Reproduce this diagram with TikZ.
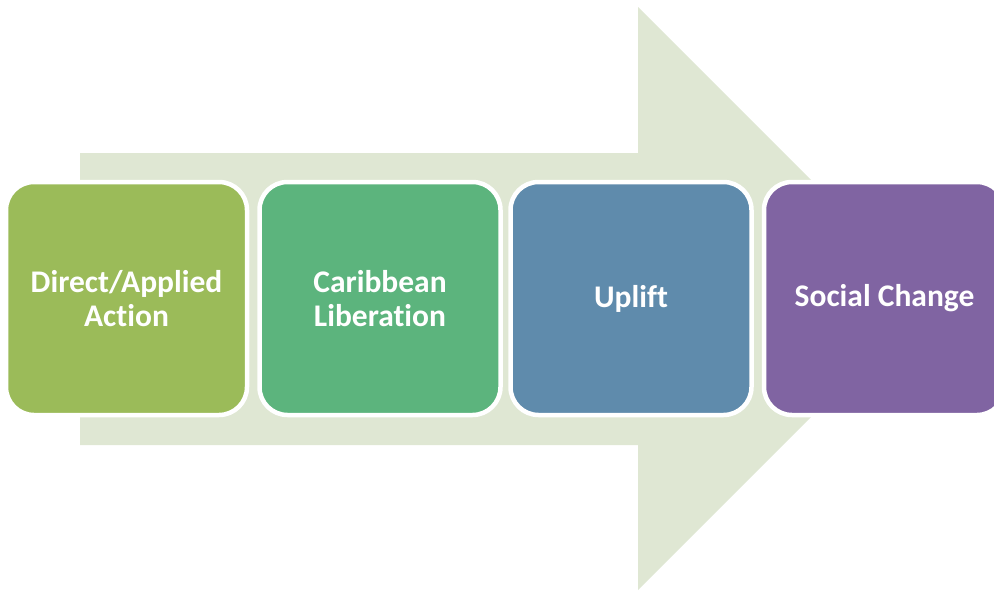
\documentclass[tikz,border=0pt]{standalone}
\usepackage{fontspec}
\setmainfont{Carlito}[Ligatures=NoCommon]
\definecolor{arrowfill}{HTML}{DFE7D3}
\definecolor{boxA}{HTML}{9BBB59}
\definecolor{boxB}{HTML}{5CB47D}
\definecolor{boxC}{HTML}{5F8BAC}
\definecolor{boxD}{HTML}{8064A2}
\tikzset{
  stagebox/.style={rectangle, rounded corners=28pt, draw=white, line width=4.5pt,
    minimum width=241pt, minimum height=233pt, inner sep=0pt,
    text=white, font=\bfseries\fontsize{31.5}{34}\selectfont, align=center},
}
\begin{document}
\begin{tikzpicture}[x=1pt,y=-1pt]
\useasboundingbox (0,0) rectangle (994,592);
\clip (0,0) rectangle (994,592);
% big background arrow
\fill[arrowfill] (80,153) -- (638,153) -- (638,7) -- (929.5,298.5) -- (638,590) -- (638,445) -- (80,445) -- cycle;
% stage boxes
\node[stagebox, fill=boxA] (s1) at (126.5,298.5) {Direct/Applied\\Action};
\node[stagebox, fill=boxB] (s2) at (380,298.5) {Caribbean\\Liberation};
\node[stagebox, fill=boxC] (s3) at (631,298.5) {Uplift};
\node[stagebox, fill=boxD] (s4) at (884.5,298.5) {Social Change};
\end{tikzpicture}
\end{document}
